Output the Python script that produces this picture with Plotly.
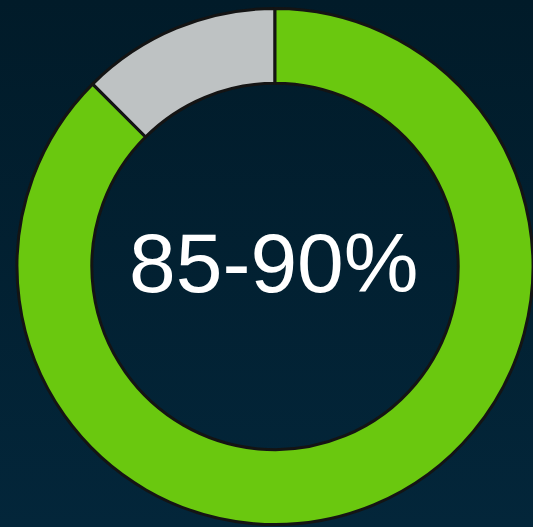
import plotly.graph_objects as go

labels = ["Other", "85-90%"]
values = [12.5, 87.5]
colors = ["#BEC2C3", "#6AC80F"]
center_text = "85-90%"

W, H = 533, 527
fig = go.Figure(go.Pie(
    labels=labels, values=values, sort=False, direction="clockwise", rotation=-45,
    hole=0.71, textinfo="none", hoverinfo="label+percent",
    marker=dict(colors=colors, line=dict(color="#141414", width=3)),
    domain=dict(x=[17 / W, 1], y=[2 / H, 519 / H]),
    showlegend=False,
))
fig.add_annotation(
    text=center_text, x=274 / W, y=1 - 263 / H, xref="paper", yref="paper",
    showarrow=False, xanchor="center", yanchor="middle",
    font=dict(family="Liberation Sans, Arial, sans-serif", size=84, color="white"),
)
fig.update_layout(
    width=W, height=H, margin=dict(l=0, r=0, t=0, b=0),
    paper_bgcolor="rgba(0,0,0,0)", plot_bgcolor="rgba(0,0,0,0)",
)
fig.write_html(
    "out.html",
    config={"displayModeBar": False},
    post_script=(
        "document.body.style.margin='0';"
        "document.body.style.overflow='hidden';"
        "document.body.style.height='527px';"
        "document.body.style.background='linear-gradient(to bottom, #011b29, #03263a)';"
    ),
)
